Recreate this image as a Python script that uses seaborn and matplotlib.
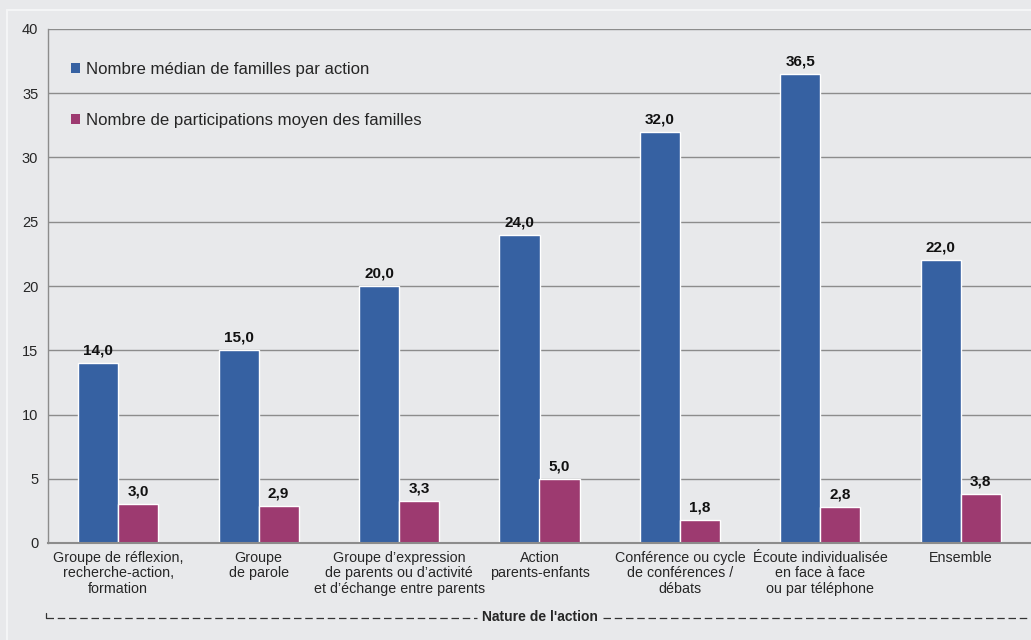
import pandas as pd
import seaborn as sns
import matplotlib.pyplot as plt
from matplotlib.lines import Line2D

# categories (x axis) and the two series
categories = [
    "Groupe de réflexion,\nrecherche-action,\nformation",
    "Groupe\nde parole",
    "Groupe d\u2019expression\nde parents ou d\u2019activité\net d\u2019échange entre parents",
    "Action\nparents-enfants",
    "Conférence ou cycle\nde conférences /\ndébats",
    "Écoute individualisée\nen face à face\nou par téléphone",
    "Ensemble",
]
median_families = [14.0, 15.0, 20.0, 24.0, 32.0, 36.5, 22.0]
mean_participations = [3.0, 2.9, 3.3, 5.0, 1.8, 2.8, 3.8]
series_names = ["Nombre médian de familles par action",
                "Nombre de participations moyen des familles"]
y_ticks = [0, 5, 10, 15, 20, 25, 30, 35, 40]

# long-form table for seaborn
df = pd.DataFrame({
    "categorie": categories * 2,
    "valeur": median_families + mean_participations,
    "serie": [series_names[0]] * len(categories) + [series_names[1]] * len(categories),
})

bg = "#e8e9eb"
grid_col = "#8c8c8c"
sns.set_style("white")
plt.rcParams["font.family"] = ["Liberation Sans", "DejaVu Sans"]

fig = plt.figure(figsize=(10.31, 6.40), dpi=100, facecolor=bg)
# faint panel border
fig.add_artist(Line2D([7 / 1031, 1], [630 / 640, 630 / 640], color="#f4f5f6", lw=1.5))
fig.add_artist(Line2D([7 / 1031, 7 / 1031], [0, 630 / 640], color="#f4f5f6", lw=1.5))

ax = fig.add_axes([48 / 1031, 97 / 640, 1 - 48 / 1031, (543 - 29) / 640])
ax.set_facecolor(bg)

sns.barplot(data=df, x="categorie", y="valeur", hue="serie",
            palette=["#3661a2", "#9d3a70"], width=0.57, gap=0,
            edgecolor="white", linewidth=1, saturation=1, ax=ax)

for cont in ax.containers:
    labels = [f"{b.get_height():.1f}".replace(".", ",") for b in cont]
    ax.bar_label(cont, labels=labels, padding=4, fontsize=11,
                 fontweight="bold", color="#111111")

ax.set_ylim(0, 40)
ax.set_xlim(-0.5, len(categories) - 0.5)
ax.set_yticks(y_ticks)
ax.yaxis.grid(True, color=grid_col, lw=1)
ax.set_axisbelow(True)
for side in ["top", "right"]:
    ax.spines[side].set_visible(False)
ax.spines["left"].set_color(grid_col)
ax.spines["bottom"].set_color(grid_col)
ax.spines["left"].set_linewidth(1)
ax.spines["bottom"].set_linewidth(1.5)

ax.tick_params(axis="y", length=4, color=grid_col, labelsize=10.5, pad=3)
ax.set_xticks(range(len(categories)))
ax.set_xticklabels(categories, fontsize=10.3, linespacing=1.1)
ax.tick_params(axis="x", length=0, pad=6)
# small separator ticks between categories
ax.set_xticks([k - 0.5 for k in range(len(categories) + 1)], minor=True)
ax.tick_params(axis="x", which="minor", length=4, color=grid_col)
ax.set_xlabel("")
ax.set_ylabel("")

leg = ax.legend(loc="upper left", bbox_to_anchor=(0.008, 0.965), frameon=False,
                fontsize=12.1, handlelength=0.55, handleheight=0.55,
                handletextpad=0.35, labelspacing=2.15)
for h in leg.legend_handles:
    h.set_edgecolor("none")

# dashed bracket with the axis title
ytitle = 23 / 640
fig.text(540 / 1031, ytitle, "Nature de l'action", ha="center", va="center",
         fontsize=10, fontweight="bold")
fig.add_artist(Line2D([46 / 1031, 477 / 1031], [ytitle - 1 / 640] * 2,
                      color="#333333", lw=0.9, ls=(0, (6, 3))))
fig.add_artist(Line2D([46 / 1031, 46 / 1031], [ytitle - 1 / 640, ytitle + 4 / 640],
                      color="#333333", lw=0.9))
fig.add_artist(Line2D([603 / 1031, 1], [ytitle - 1 / 640] * 2,
                      color="#333333", lw=0.9, ls=(0, (6, 3))))

fig.savefig("out.png", dpi=100, facecolor=bg)
